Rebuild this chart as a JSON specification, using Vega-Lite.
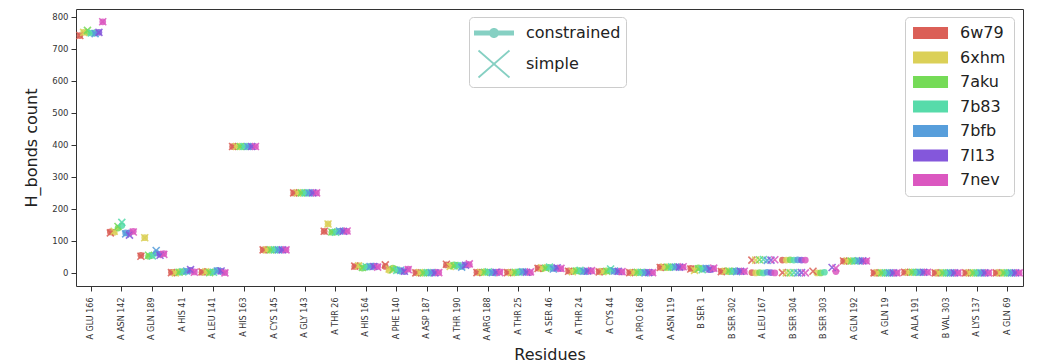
{
 "$schema": "https://vega.github.io/schema/vega-lite/v6.json",
 "width": 947,
 "height": 277,
 "autosize": {"type": "none"},
 "padding": {"left": 76, "top": 9, "right": 15, "bottom": 77},
 "config": {
  "font": "DejaVu Sans",
  "view": {"stroke": "#333", "strokeWidth": 1},
  "axis": {"grid": false, "domain": false, "tickColor": "#333", "tickSize": 5, "labelColor": "#333", "titleColor": "#222", "titleFontWeight": "normal", "titleFontSize": 16},
  "legend": {"strokeColor": "#ccc", "cornerRadius": 4, "fillColor": "white", "labelFontSize": 16, "labelColor": "#222", "title": null}
 },
 "data": {"values": [
  {"r":"A GLU 166","p":"6w79","constrained":742,"simple":742},
  {"r":"A GLU 166","p":"6xhm","constrained":752,"simple":752},
  {"r":"A GLU 166","p":"7aku","constrained":752,"simple":758},
  {"r":"A GLU 166","p":"7b83","constrained":750,"simple":750},
  {"r":"A GLU 166","p":"7bfb","constrained":750,"simple":748},
  {"r":"A GLU 166","p":"7l13","constrained":752,"simple":752},
  {"r":"A GLU 166","p":"7nev","constrained":785,"simple":785},
  {"r":"A ASN 142","p":"6w79","constrained":128,"simple":125},
  {"r":"A ASN 142","p":"6xhm","constrained":127,"simple":130},
  {"r":"A ASN 142","p":"7aku","constrained":140,"simple":145},
  {"r":"A ASN 142","p":"7b83","constrained":148,"simple":158},
  {"r":"A ASN 142","p":"7bfb","constrained":125,"simple":122},
  {"r":"A ASN 142","p":"7l13","constrained":125,"simple":118},
  {"r":"A ASN 142","p":"7nev","constrained":130,"simple":128},
  {"r":"A GLN 189","p":"6w79","constrained":55,"simple":52},
  {"r":"A GLN 189","p":"6xhm","constrained":110,"simple":110},
  {"r":"A GLN 189","p":"7aku","constrained":52,"simple":55},
  {"r":"A GLN 189","p":"7b83","constrained":55,"simple":53},
  {"r":"A GLN 189","p":"7bfb","constrained":62,"simple":70},
  {"r":"A GLN 189","p":"7l13","constrained":58,"simple":55},
  {"r":"A GLN 189","p":"7nev","constrained":60,"simple":58},
  {"r":"A HIS 41","p":"6w79","constrained":2,"simple":1},
  {"r":"A HIS 41","p":"6xhm","constrained":0,"simple":0},
  {"r":"A HIS 41","p":"7aku","constrained":3,"simple":2},
  {"r":"A HIS 41","p":"7b83","constrained":4,"simple":3},
  {"r":"A HIS 41","p":"7bfb","constrained":5,"simple":6},
  {"r":"A HIS 41","p":"7l13","constrained":8,"simple":10},
  {"r":"A HIS 41","p":"7nev","constrained":3,"simple":2},
  {"r":"A LEU 141","p":"6w79","constrained":2,"simple":3},
  {"r":"A LEU 141","p":"6xhm","constrained":4,"simple":3},
  {"r":"A LEU 141","p":"7aku","constrained":2,"simple":1},
  {"r":"A LEU 141","p":"7b83","constrained":3,"simple":2},
  {"r":"A LEU 141","p":"7bfb","constrained":8,"simple":6},
  {"r":"A LEU 141","p":"7l13","constrained":5,"simple":6},
  {"r":"A LEU 141","p":"7nev","constrained":1,"simple":0},
  {"r":"A HIS 163","p":"6w79","constrained":395,"simple":395},
  {"r":"A HIS 163","p":"6xhm","constrained":395,"simple":395},
  {"r":"A HIS 163","p":"7aku","constrained":395,"simple":395},
  {"r":"A HIS 163","p":"7b83","constrained":395,"simple":395},
  {"r":"A HIS 163","p":"7bfb","constrained":395,"simple":395},
  {"r":"A HIS 163","p":"7l13","constrained":395,"simple":395},
  {"r":"A HIS 163","p":"7nev","constrained":395,"simple":395},
  {"r":"A CYS 145","p":"6w79","constrained":72,"simple":72},
  {"r":"A CYS 145","p":"6xhm","constrained":72,"simple":72},
  {"r":"A CYS 145","p":"7aku","constrained":72,"simple":72},
  {"r":"A CYS 145","p":"7b83","constrained":72,"simple":72},
  {"r":"A CYS 145","p":"7bfb","constrained":72,"simple":72},
  {"r":"A CYS 145","p":"7l13","constrained":72,"simple":72},
  {"r":"A CYS 145","p":"7nev","constrained":72,"simple":72},
  {"r":"A GLY 143","p":"6w79","constrained":250,"simple":250},
  {"r":"A GLY 143","p":"6xhm","constrained":250,"simple":250},
  {"r":"A GLY 143","p":"7aku","constrained":250,"simple":250},
  {"r":"A GLY 143","p":"7b83","constrained":250,"simple":250},
  {"r":"A GLY 143","p":"7bfb","constrained":250,"simple":250},
  {"r":"A GLY 143","p":"7l13","constrained":250,"simple":250},
  {"r":"A GLY 143","p":"7nev","constrained":250,"simple":250},
  {"r":"A THR 26","p":"6w79","constrained":130,"simple":130},
  {"r":"A THR 26","p":"6xhm","constrained":153,"simple":153},
  {"r":"A THR 26","p":"7aku","constrained":127,"simple":128},
  {"r":"A THR 26","p":"7b83","constrained":128,"simple":127},
  {"r":"A THR 26","p":"7bfb","constrained":130,"simple":131},
  {"r":"A THR 26","p":"7l13","constrained":131,"simple":130},
  {"r":"A THR 26","p":"7nev","constrained":130,"simple":131},
  {"r":"A HIS 164","p":"6w79","constrained":20,"simple":21},
  {"r":"A HIS 164","p":"6xhm","constrained":23,"simple":22},
  {"r":"A HIS 164","p":"7aku","constrained":15,"simple":17},
  {"r":"A HIS 164","p":"7b83","constrained":18,"simple":19},
  {"r":"A HIS 164","p":"7bfb","constrained":20,"simple":20},
  {"r":"A HIS 164","p":"7l13","constrained":21,"simple":20},
  {"r":"A HIS 164","p":"7nev","constrained":20,"simple":18},
  {"r":"A PHE 140","p":"6w79","constrained":20,"simple":25},
  {"r":"A PHE 140","p":"6xhm","constrained":8,"simple":12},
  {"r":"A PHE 140","p":"7aku","constrained":15,"simple":10},
  {"r":"A PHE 140","p":"7b83","constrained":10,"simple":8},
  {"r":"A PHE 140","p":"7bfb","constrained":6,"simple":8},
  {"r":"A PHE 140","p":"7l13","constrained":4,"simple":5},
  {"r":"A PHE 140","p":"7nev","constrained":12,"simple":10},
  {"r":"A ASP 187","p":"6w79","constrained":1,"simple":0},
  {"r":"A ASP 187","p":"6xhm","constrained":0,"simple":1},
  {"r":"A ASP 187","p":"7aku","constrained":0,"simple":0},
  {"r":"A ASP 187","p":"7b83","constrained":1,"simple":1},
  {"r":"A ASP 187","p":"7bfb","constrained":0,"simple":1},
  {"r":"A ASP 187","p":"7l13","constrained":1,"simple":0},
  {"r":"A ASP 187","p":"7nev","constrained":1,"simple":1},
  {"r":"A THR 190","p":"6w79","constrained":25,"simple":27},
  {"r":"A THR 190","p":"6xhm","constrained":22,"simple":20},
  {"r":"A THR 190","p":"7aku","constrained":25,"simple":22},
  {"r":"A THR 190","p":"7b83","constrained":24,"simple":22},
  {"r":"A THR 190","p":"7bfb","constrained":20,"simple":18},
  {"r":"A THR 190","p":"7l13","constrained":25,"simple":24},
  {"r":"A THR 190","p":"7nev","constrained":26,"simple":28},
  {"r":"A ARG 188","p":"6w79","constrained":2,"simple":1},
  {"r":"A ARG 188","p":"6xhm","constrained":1,"simple":2},
  {"r":"A ARG 188","p":"7aku","constrained":3,"simple":2},
  {"r":"A ARG 188","p":"7b83","constrained":2,"simple":3},
  {"r":"A ARG 188","p":"7bfb","constrained":1,"simple":1},
  {"r":"A ARG 188","p":"7l13","constrained":2,"simple":2},
  {"r":"A ARG 188","p":"7nev","constrained":3,"simple":1},
  {"r":"A THR 25","p":"6w79","constrained":2,"simple":1},
  {"r":"A THR 25","p":"6xhm","constrained":0,"simple":1},
  {"r":"A THR 25","p":"7aku","constrained":1,"simple":2},
  {"r":"A THR 25","p":"7b83","constrained":3,"simple":2},
  {"r":"A THR 25","p":"7bfb","constrained":4,"simple":3},
  {"r":"A THR 25","p":"7l13","constrained":2,"simple":2},
  {"r":"A THR 25","p":"7nev","constrained":1,"simple":3},
  {"r":"A SER 46","p":"6w79","constrained":15,"simple":14},
  {"r":"A SER 46","p":"6xhm","constrained":13,"simple":16},
  {"r":"A SER 46","p":"7aku","constrained":16,"simple":15},
  {"r":"A SER 46","p":"7b83","constrained":17,"simple":18},
  {"r":"A SER 46","p":"7bfb","constrained":14,"simple":12},
  {"r":"A SER 46","p":"7l13","constrained":15,"simple":16},
  {"r":"A SER 46","p":"7nev","constrained":13,"simple":14},
  {"r":"A THR 24","p":"6w79","constrained":6,"simple":5},
  {"r":"A THR 24","p":"6xhm","constrained":5,"simple":4},
  {"r":"A THR 24","p":"7aku","constrained":7,"simple":6},
  {"r":"A THR 24","p":"7b83","constrained":6,"simple":8},
  {"r":"A THR 24","p":"7bfb","constrained":4,"simple":5},
  {"r":"A THR 24","p":"7l13","constrained":5,"simple":6},
  {"r":"A THR 24","p":"7nev","constrained":6,"simple":7},
  {"r":"A CYS 44","p":"6w79","constrained":4,"simple":3},
  {"r":"A CYS 44","p":"6xhm","constrained":5,"simple":4},
  {"r":"A CYS 44","p":"7aku","constrained":6,"simple":5},
  {"r":"A CYS 44","p":"7b83","constrained":8,"simple":12},
  {"r":"A CYS 44","p":"7bfb","constrained":5,"simple":6},
  {"r":"A CYS 44","p":"7l13","constrained":4,"simple":5},
  {"r":"A CYS 44","p":"7nev","constrained":3,"simple":4},
  {"r":"A PRO 168","p":"6w79","constrained":1,"simple":1},
  {"r":"A PRO 168","p":"6xhm","constrained":2,"simple":1},
  {"r":"A PRO 168","p":"7aku","constrained":1,"simple":2},
  {"r":"A PRO 168","p":"7b83","constrained":2,"simple":2},
  {"r":"A PRO 168","p":"7bfb","constrained":1,"simple":0},
  {"r":"A PRO 168","p":"7l13","constrained":2,"simple":1},
  {"r":"A PRO 168","p":"7nev","constrained":1,"simple":1},
  {"r":"A ASN 119","p":"6w79","constrained":18,"simple":17},
  {"r":"A ASN 119","p":"6xhm","constrained":18,"simple":18},
  {"r":"A ASN 119","p":"7aku","constrained":17,"simple":18},
  {"r":"A ASN 119","p":"7b83","constrained":18,"simple":19},
  {"r":"A ASN 119","p":"7bfb","constrained":19,"simple":18},
  {"r":"A ASN 119","p":"7l13","constrained":18,"simple":18},
  {"r":"A ASN 119","p":"7nev","constrained":18,"simple":19},
  {"r":"B SER 1","p":"6w79","constrained":14,"simple":12},
  {"r":"B SER 1","p":"6xhm","constrained":10,"simple":8},
  {"r":"B SER 1","p":"7aku","constrained":16,"simple":13},
  {"r":"B SER 1","p":"7b83","constrained":12,"simple":10},
  {"r":"B SER 1","p":"7bfb","constrained":15,"simple":14},
  {"r":"B SER 1","p":"7l13","constrained":10,"simple":12},
  {"r":"B SER 1","p":"7nev","constrained":13,"simple":15},
  {"r":"B SER 302","p":"6w79","constrained":5,"simple":4},
  {"r":"B SER 302","p":"6xhm","constrained":6,"simple":5},
  {"r":"B SER 302","p":"7aku","constrained":4,"simple":6},
  {"r":"B SER 302","p":"7b83","constrained":5,"simple":5},
  {"r":"B SER 302","p":"7bfb","constrained":6,"simple":4},
  {"r":"B SER 302","p":"7l13","constrained":5,"simple":5},
  {"r":"B SER 302","p":"7nev","constrained":4,"simple":5},
  {"r":"A LEU 167","p":"6w79","constrained":1,"simple":40},
  {"r":"A LEU 167","p":"6xhm","constrained":0,"simple":40},
  {"r":"A LEU 167","p":"7aku","constrained":1,"simple":41},
  {"r":"A LEU 167","p":"7b83","constrained":0,"simple":42},
  {"r":"A LEU 167","p":"7bfb","constrained":2,"simple":39},
  {"r":"A LEU 167","p":"7l13","constrained":1,"simple":40},
  {"r":"A LEU 167","p":"7nev","constrained":0,"simple":41},
  {"r":"B SER 304","p":"6w79","constrained":40,"simple":1},
  {"r":"B SER 304","p":"6xhm","constrained":40,"simple":0},
  {"r":"B SER 304","p":"7aku","constrained":41,"simple":0},
  {"r":"B SER 304","p":"7b83","constrained":40,"simple":1},
  {"r":"B SER 304","p":"7bfb","constrained":41,"simple":0},
  {"r":"B SER 304","p":"7l13","constrained":40,"simple":1},
  {"r":"B SER 304","p":"7nev","constrained":40,"simple":0},
  {"r":"B SER 303","p":"6w79","constrained":null,"simple":5},
  {"r":"B SER 303","p":"6xhm","constrained":0,"simple":null},
  {"r":"B SER 303","p":"7aku","constrained":0,"simple":null},
  {"r":"B SER 303","p":"7b83","constrained":2,"simple":null},
  {"r":"B SER 303","p":"7bfb","constrained":null,"simple":null},
  {"r":"B SER 303","p":"7l13","constrained":null,"simple":17},
  {"r":"B SER 303","p":"7nev","constrained":4,"simple":15},
  {"r":"A GLN 192","p":"6w79","constrained":37,"simple":37},
  {"r":"A GLN 192","p":"6xhm","constrained":37,"simple":37},
  {"r":"A GLN 192","p":"7aku","constrained":37,"simple":37},
  {"r":"A GLN 192","p":"7b83","constrained":38,"simple":37},
  {"r":"A GLN 192","p":"7bfb","constrained":37,"simple":38},
  {"r":"A GLN 192","p":"7l13","constrained":37,"simple":38},
  {"r":"A GLN 192","p":"7nev","constrained":37,"simple":37},
  {"r":"A GLN 19","p":"6w79","constrained":0,"simple":0},
  {"r":"A GLN 19","p":"6xhm","constrained":0,"simple":0},
  {"r":"A GLN 19","p":"7aku","constrained":0,"simple":0},
  {"r":"A GLN 19","p":"7b83","constrained":0,"simple":0},
  {"r":"A GLN 19","p":"7bfb","constrained":0,"simple":0},
  {"r":"A GLN 19","p":"7l13","constrained":0,"simple":0},
  {"r":"A GLN 19","p":"7nev","constrained":0,"simple":0},
  {"r":"A ALA 191","p":"6w79","constrained":2,"simple":2},
  {"r":"A ALA 191","p":"6xhm","constrained":2,"simple":2},
  {"r":"A ALA 191","p":"7aku","constrained":2,"simple":2},
  {"r":"A ALA 191","p":"7b83","constrained":2,"simple":2},
  {"r":"A ALA 191","p":"7bfb","constrained":2,"simple":2},
  {"r":"A ALA 191","p":"7l13","constrained":2,"simple":2},
  {"r":"A ALA 191","p":"7nev","constrained":2,"simple":2},
  {"r":"B VAL 303","p":"6w79","constrained":0,"simple":0},
  {"r":"B VAL 303","p":"6xhm","constrained":0,"simple":0},
  {"r":"B VAL 303","p":"7aku","constrained":0,"simple":0},
  {"r":"B VAL 303","p":"7b83","constrained":0,"simple":0},
  {"r":"B VAL 303","p":"7bfb","constrained":0,"simple":0},
  {"r":"B VAL 303","p":"7l13","constrained":0,"simple":0},
  {"r":"B VAL 303","p":"7nev","constrained":0,"simple":0},
  {"r":"A LYS 137","p":"6w79","constrained":0,"simple":0},
  {"r":"A LYS 137","p":"6xhm","constrained":0,"simple":0},
  {"r":"A LYS 137","p":"7aku","constrained":0,"simple":0},
  {"r":"A LYS 137","p":"7b83","constrained":0,"simple":0},
  {"r":"A LYS 137","p":"7bfb","constrained":0,"simple":0},
  {"r":"A LYS 137","p":"7l13","constrained":0,"simple":0},
  {"r":"A LYS 137","p":"7nev","constrained":0,"simple":0},
  {"r":"A GLN 69","p":"6w79","constrained":0,"simple":0},
  {"r":"A GLN 69","p":"6xhm","constrained":0,"simple":0},
  {"r":"A GLN 69","p":"7aku","constrained":0,"simple":0},
  {"r":"A GLN 69","p":"7b83","constrained":0,"simple":0},
  {"r":"A GLN 69","p":"7bfb","constrained":0,"simple":0},
  {"r":"A GLN 69","p":"7l13","constrained":0,"simple":0},
  {"r":"A GLN 69","p":"7nev","constrained":0,"simple":0}
 ]},
 "transform": [{"fold": ["constrained", "simple"], "as": ["m", "v"]}, {"filter": "datum.v != null"}],
 "encoding": {
  "x": {"field": "r", "type": "nominal", "title": "Residues",
   "scale": {"type": "band", "paddingInner": 0, "paddingOuter": 0,
    "domain": ["A GLU 166","A ASN 142","A GLN 189","A HIS 41","A LEU 141","A HIS 163","A CYS 145","A GLY 143","A THR 26","A HIS 164","A PHE 140","A ASP 187","A THR 190","A ARG 188","A THR 25","A SER 46","A THR 24","A CYS 44","A PRO 168","A ASN 119","B SER 1","B SER 302","A LEU 167","B SER 304","B SER 303","A GLN 192","A GLN 19","A ALA 191","B VAL 303","A LYS 137","A GLN 69"]},
   "axis": {"labelAngle": 270, "labelFontSize": 8, "labelPadding": 6, "titlePadding": 6}},
  "xOffset": {"field": "p", "type": "nominal", "scale": {"type": "point", "padding": 1.5, "domain": ["6w79","6xhm","7aku","7b83","7bfb","7l13","7nev"]}},
  "y": {"field": "v", "type": "quantitative", "title": "H_bonds count",
   "scale": {"domain": [-41, 825], "nice": false, "zero": false},
   "axis": {"values": [0,100,200,300,400,500,600,700,800], "labelFontSize": 8.5, "labelPadding": 3, "titlePadding": 12}}
 },
 "layer": [
  {
   "transform": [{"filter": "datum.m == 'constrained'"}],
   "mark": {"type": "point", "filled": true, "shape": "circle", "size": 45, "opacity": 0.85},
   "encoding": {
    "fill": {"field": "p", "type": "nominal",
     "scale": {"domain": ["6w79","6xhm","7aku","7b83","7bfb","7l13","7nev"], "range": ["#db5f57","#dbd057","#75db57","#57dbaa","#579edb","#8457db","#db57c0"]},
     "legend": {"orient": "none", "legendX": 829, "legendY": 8, "padding": 8, "symbolType": "M-1.14,-0.86H3.86V0.86H-1.14Z", "symbolSize": 196, "symbolStrokeWidth": 0, "symbolOpacity": 1, "labelOffset": 31, "rowPadding": 8.5}}
   }
  },
  {
   "transform": [{"filter": "datum.m == 'simple'"}],
   "mark": {"type": "point", "filled": false, "shape": "M-1,-1L1,1M1,-1L-1,1", "size": 49, "strokeWidth": 1.6, "opacity": 0.85},
   "encoding": {
    "stroke": {"field": "p", "type": "nominal", "legend": null,
     "scale": {"domain": ["6w79","6xhm","7aku","7b83","7bfb","7l13","7nev"], "range": ["#db5f57","#dbd057","#75db57","#57dbaa","#579edb","#8457db","#db57c0"]}}
   }
  },
  {
   "mark": {"type": "point", "filled": true, "color": "#86d0c3", "fill": "#86d0c3", "opacity": 0},
   "encoding": {
    "shape": {"field": "m", "type": "nominal",
     "scale": {"domain": ["constrained", "simple"], "range": ["M-1.1,-0.25H2.9V0.25H-1.1Z M1.4,0A0.5,0.5 0 1,1 0.4,0A0.5,0.5 0 1,1 1.4,0Z", "M-0.709,-1.282L2.391,1.418L2.509,1.282L-0.591,-1.418Z M2.391,-1.418L-0.709,1.282L-0.591,1.418L2.509,-1.282Z"]},
     "legend": {"orient": "none", "legendX": 393, "legendY": 8, "padding": 5, "symbolSize": 400, "labelOffset": 30, "rowPadding": 5,
      "symbolFillColor": "#86d0c3", "symbolOpacity": 1}}
   }
  }
 ]
}
